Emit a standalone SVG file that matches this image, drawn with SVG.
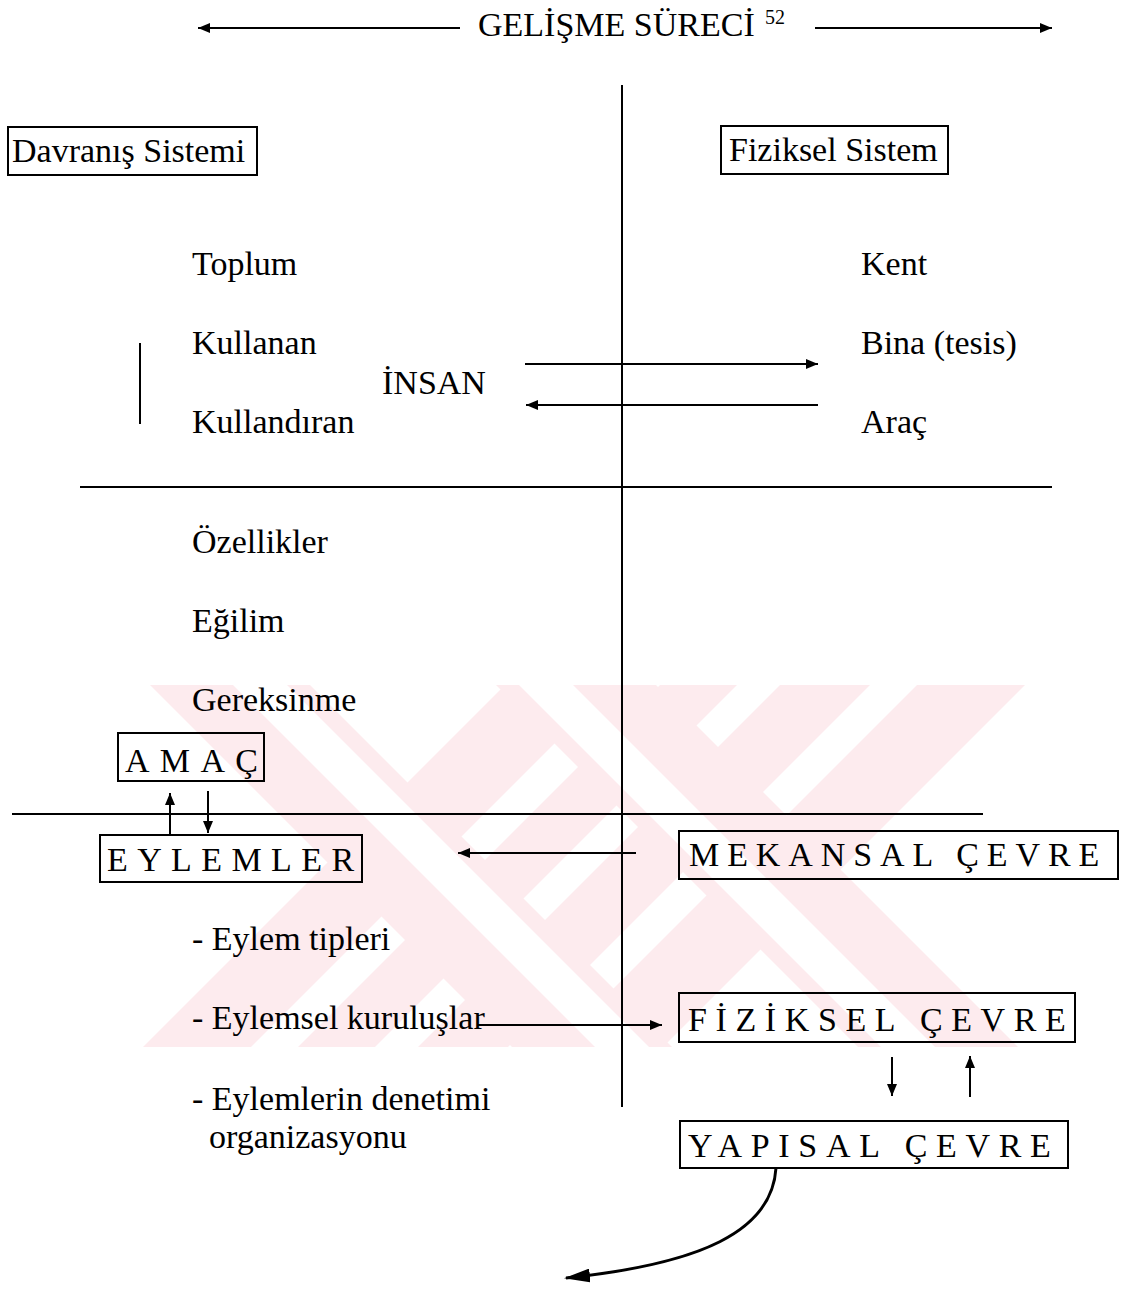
<svg xmlns="http://www.w3.org/2000/svg" width="1123" height="1290" viewBox="0 0 1123 1290">
<defs>
<style>
text{font-family:"Liberation Serif","Times New Roman",serif;font-size:34px;fill:#000}
.sp{font-size:34px}
.box{fill:none;stroke:#000;stroke-width:2}
.ln{stroke:#000;stroke-width:2;fill:none}
.wm{fill:#fdebee}
.wh{fill:#fff}
</style>
<marker id="ah" viewBox="0 0 12 10" refX="12" refY="5" markerWidth="12" markerHeight="10" markerUnits="userSpaceOnUse" orient="auto">
<path d="M0,0 L12,5 L0,10 z" fill="#000"/>
</marker>
<marker id="ahBig" viewBox="0 0 26 14" refX="24" refY="7" markerWidth="26" markerHeight="14" markerUnits="userSpaceOnUse" orient="auto">
<path d="M0,0 L26,7 L0,14 z" fill="#000"/>
</marker>
</defs>
<rect width="1123" height="1290" fill="#fff"/>
<g id="watermark">
<polygon class="wm" points="505,685 1025,685 663,1047 143,1047"/>
<polygon class="wh" points="613,685 660,685 298,1047 251,1047"/>
<polygon class="wh" points="737,685 780,685 418,1047 375,1047"/>
<polygon class="wh" points="870,685 917,685 555,1047 508,1047"/>
<polygon class="wm" points="150,685 310,685 672,1047 512,1047"/>
<polygon class="wh" points="233,685 287,685 649,1047 595,1047"/>
<polygon class="wm" points="496,685 656,685 1018,1047 858,1047"/>
<polygon class="wh" points="519,685 573,685 935,1047 881,1047"/>
</g>
<g id="connectors">
<line class="ln" x1="460" y1="28" x2="198" y2="28" marker-end="url(#ah)"/>
<line class="ln" x1="815" y1="28" x2="1052" y2="28" marker-end="url(#ah)"/>
<line class="ln" x1="622" y1="85" x2="622" y2="1107"/>
<line class="ln" x1="80" y1="487" x2="1052" y2="487"/>
<line class="ln" x1="12" y1="814" x2="983" y2="814"/>
<line class="ln" x1="140" y1="343" x2="140" y2="424"/>
<line class="ln" x1="525" y1="364" x2="818" y2="364" marker-end="url(#ah)"/>
<line class="ln" x1="818" y1="405" x2="526" y2="405" marker-end="url(#ah)"/>
<line class="ln" x1="170" y1="835" x2="170" y2="793" marker-end="url(#ah)"/>
<line class="ln" x1="208" y1="791" x2="208" y2="833" marker-end="url(#ah)"/>
<line class="ln" x1="636" y1="853" x2="458" y2="853" marker-end="url(#ah)"/>
<line class="ln" x1="478" y1="1025" x2="662" y2="1025" marker-end="url(#ah)"/>
<line class="ln" x1="892" y1="1057" x2="892" y2="1096" marker-end="url(#ah)"/>
<line class="ln" x1="970" y1="1097" x2="970" y2="1056" marker-end="url(#ah)"/>
<path class="ln" style="stroke-width:3" d="M776,1168 C772,1232 700,1264 566,1278" marker-end="url(#ahBig)"/>
</g>
<g id="title">
<text x="478" y="36">GELİŞME SÜRECİ</text>
<text x="765" y="24" style="font-size:20px">52</text>
</g>
<g id="davranis-sistemi">
<rect class="box" x="8" y="127" width="249" height="48"/>
<text x="12" y="162">Davranış Sistemi</text>
</g>
<g id="fiziksel-sistem">
<rect class="box" x="721" y="126" width="227" height="48"/>
<text x="729" y="161">Fiziksel Sistem</text>
</g>
<g id="left-items">
<text x="192" y="275">Toplum</text>
<text x="192" y="354">Kullanan</text>
<text x="192" y="433">Kullandıran</text>
</g>
<g id="insan">
<text x="382" y="394">İNSAN</text>
</g>
<g id="right-items">
<text x="861" y="275">Kent</text>
<text x="861" y="354">Bina (tesis)</text>
<text x="861" y="433">Araç</text>
</g>
<g id="properties">
<text x="192" y="553">Özellikler</text>
<text x="192" y="632">Eğilim</text>
<text x="192" y="711">Gereksinme</text>
</g>
<g id="amac">
<rect class="box" x="118" y="733" width="146" height="48"/>
<text class="sp" x="125" y="772" style="letter-spacing:10.3px">AMAÇ</text>
</g>
<g id="eylemler">
<rect class="box" x="100" y="835" width="262" height="47"/>
<text class="sp" x="107" y="871" style="letter-spacing:9.4px">EYLEMLER</text>
</g>
<g id="mekansal-cevre">
<rect class="box" x="679" y="831" width="439" height="48"/>
<text class="sp" x="689" y="866" style="letter-spacing:7.9px">MEKANSAL ÇEVRE</text>
</g>
<g id="eylem-list">
<text x="192" y="950">- Eylem tipleri</text>
<text x="192" y="1029">- Eylemsel kuruluşlar</text>
<text x="192" y="1110">- Eylemlerin denetimi</text>
<text x="209" y="1148">organizasyonu</text>
</g>
<g id="fiziksel-cevre">
<rect class="box" x="679" y="993" width="396" height="49"/>
<text class="sp" x="688" y="1031" style="letter-spacing:8.6px">FİZİKSEL ÇEVRE</text>
</g>
<g id="yapisal-cevre">
<rect class="box" x="680" y="1121" width="388" height="47"/>
<text class="sp" x="688" y="1157" style="letter-spacing:8.7px">YAPISAL ÇEVRE</text>
</g>
</svg>
